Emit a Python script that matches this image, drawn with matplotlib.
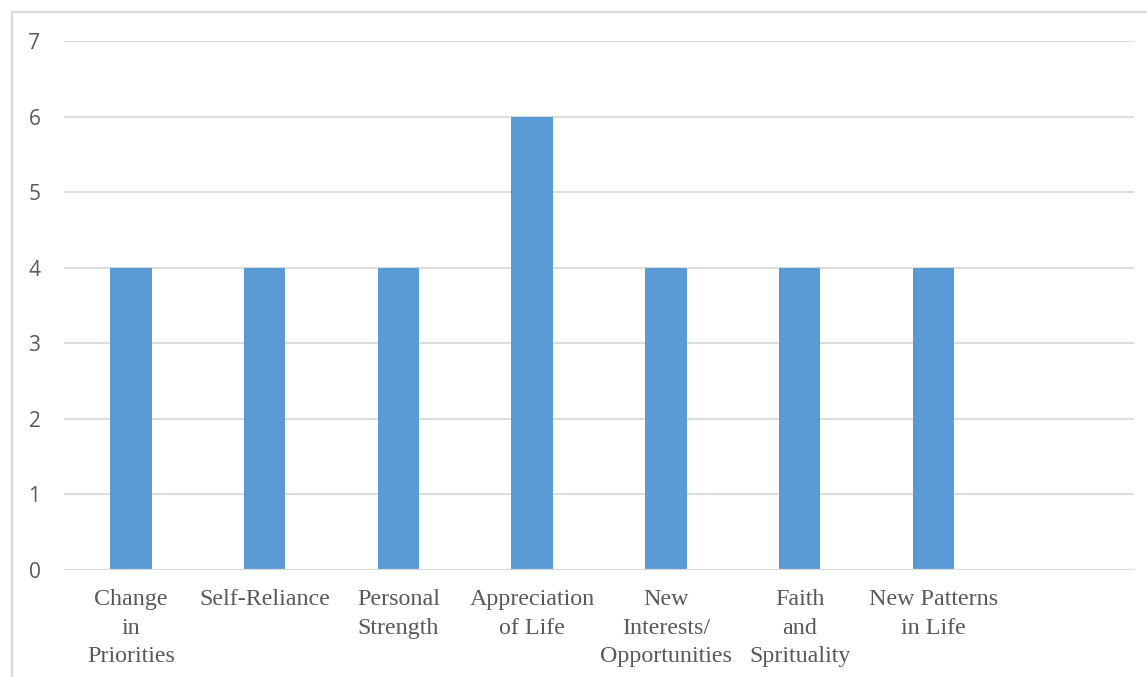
import matplotlib.pyplot as plt
from matplotlib.patches import Rectangle
import numpy as np

categories = ["Change\nin\nPriorities", "Self-Reliance", "Personal\nStrength",
              "Appreciation\nof Life", "New\nInterests/\nOpportunities",
              "Faith\nand\nSprituality", "New Patterns\nin Life"]
values = [4, 4, 4, 6, 4, 4, 4]
n_slots = 8  # the chart leaves one empty slot at the right

fig = plt.figure(figsize=(11.47, 6.77), dpi=100)
ax = fig.add_axes([64 / 1147, 107 / 677, 1070 / 1147, 529 / 677])

# light frame around the chart area
fig.patches.append(Rectangle((12 / 1147, -0.1), 1.2, (677 - 12) / 677 + 0.1,
                             transform=fig.transFigure, fill=False,
                             edgecolor="#d9d9d9", linewidth=1.6))

x = np.arange(len(categories))
ax.bar(x, values, width=0.31, color="#5b9bd5", zorder=3)

ax.set_xlim(-0.5, n_slots - 0.5)
ax.set_ylim(0, 7)
ax.set_yticks(range(0, 8))
ax.grid(axis="y", color="#d9d9d9", linewidth=1.3, zorder=0)
for s in ax.spines.values():
    s.set_visible(False)
ax.axhline(0, color="#d9d9d9", linewidth=1.6, zorder=4)

ax.set_xticks(x)
ax.set_xticklabels(categories, fontfamily="Liberation Serif", fontsize=17.3,
                   color="#595959", linespacing=1.46)
ax.tick_params(axis="x", length=0, pad=14)
ax.tick_params(axis="y", length=0, pad=17, labelsize=15, labelcolor="#595959")
for lbl in ax.get_yticklabels():
    lbl.set_fontfamily("Open Sans")

fig.savefig("out.png", dpi=100)
